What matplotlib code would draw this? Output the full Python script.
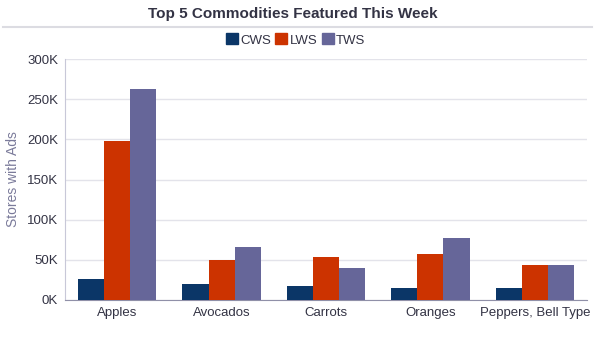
import matplotlib.pyplot as plt
import numpy as np
from matplotlib.lines import Line2D
from matplotlib.ticker import FuncFormatter

plt.rcParams['font.family'] = ['Liberation Sans', 'DejaVu Sans']

categories = ['Apples', 'Avocados', 'Carrots', 'Oranges', 'Peppers, Bell Type']
cws = [25800, 19700, 18000, 15300, 15500]
lws = [198000, 49600, 53000, 57200, 43000]
tws = [262500, 65500, 39500, 76700, 43000]

series = [('CWS', cws, '#0b3667'), ('LWS', lws, '#cc3300'), ('TWS', tws, '#666699')]

fig = plt.figure(figsize=(6, 3.43), dpi=100)
ax = fig.add_axes([65/600, 1-300/343, 522/600, 241/343])

x = np.arange(len(categories))
w = 0.25
for i, (name, vals, color) in enumerate(series):
    ax.bar(x + (i - 1) * w, vals, w, color=color, label=name, zorder=3)

ax.set_xlim(-0.5, len(categories) - 0.5)
ax.set_ylim(0, 300000)
ax.set_yticks(np.arange(0, 300001, 50000))
ax.yaxis.set_major_formatter(FuncFormatter(lambda v, p: f'{int(v/1000)}K'))
ax.set_xticks(x)
ax.set_xticklabels(categories)
ax.tick_params(axis='both', colors='#333344', labelsize=9.5, length=0)
ax.tick_params(axis='y', pad=5)
ax.tick_params(axis='x', pad=5)
ax.grid(axis='y', color='#e3e3ea', linewidth=1, zorder=0)
for s in ['top', 'right']:
    ax.spines[s].set_visible(False)
ax.spines['left'].set_color('#c8c8d8')
ax.spines['bottom'].set_color('#9090a8')
ax.set_ylabel('Stores with Ads', color='#7a7a9a', fontsize=10, labelpad=5)

fig.text(0.488, 1-14/343, 'Top 5 Commodities Featured This Week', ha='center', va='center',
         fontsize=11, fontweight='bold', color='#333344')
fig.add_artist(Line2D([3/600, 592/600], [1-27/343, 1-27/343], color='#dcdce2', linewidth=1.5))

handles = [plt.Rectangle((0, 0), 1, 1, color=c) for _, _, c in series]
fig.legend(handles, [n for n, _, _ in series], loc='center', bbox_to_anchor=(0.493, 1-40/343),
           ncol=3, frameon=False, fontsize=9.5, handlelength=0.9, handleheight=0.9,
           handletextpad=0.2, columnspacing=0.3, labelcolor='#333344')

fig.savefig('out.png', dpi=100)
